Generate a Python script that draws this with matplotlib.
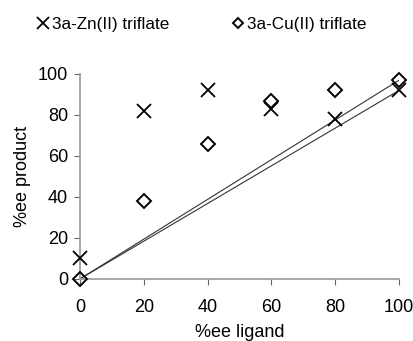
import matplotlib.pyplot as plt
import numpy as np

# %ee ligand vs %ee product
ligand_ee = [0, 20, 40, 60, 80, 100]
zn_product_ee = [10, 82, 92, 83, 78, 92]
cu_product_ee = [0, 38, 66, 87, 92, 97]

# linear-response reference lines (origin to the 100 % point)
line_x = [0, 100]
zn_line_y = [0, 92]
cu_line_y = [0, 97]

xticks = [0, 20, 40, 60, 80, 100]
yticks = [0, 20, 40, 60, 80, 100]

plt.rcParams["font.family"] = ["Liberation Sans", "DejaVu Sans"]

fig = plt.figure(figsize=(4.14, 3.41), dpi=100)
ax = fig.add_axes([0.193, 0.182, 0.771, 0.601])

ax.plot(line_x, zn_line_y, color="#333333", lw=0.8, zorder=1)
ax.plot(line_x, cu_line_y, color="#333333", lw=0.8, zorder=1)

ax.plot(ligand_ee, zn_product_ee, ls="none", marker="x", ms=10, mew=1.3,
        color="black", label="3a-Zn(II) triflate", clip_on=False, zorder=3)
ax.plot(ligand_ee, cu_product_ee, ls="none", marker="D", ms=7, mew=1.4,
        mfc="none", mec="black", label="3a-Cu(II) triflate", clip_on=False, zorder=3)

ax.set_xlim(0, 100)
ax.set_ylim(0, 100)
ax.set_xticks(xticks)
ax.set_yticks(yticks)

for side in ["top", "right"]:
    ax.spines[side].set_visible(False)
for side in ["left", "bottom"]:
    ax.spines[side].set_color("#999999")
    ax.spines[side].set_linewidth(1.2)

ax.tick_params(axis="both", colors="#666666", labelcolor="black", labelsize=13,
               length=4.5, width=0.8)
ax.tick_params(axis="x", pad=10)
ax.tick_params(axis="y", pad=4)

ax.set_xlabel("%ee ligand", fontsize=13, labelpad=5.5)
ax.set_ylabel("%ee product", fontsize=13, labelpad=5)

fig.legend(loc="upper left", bbox_to_anchor=(0.045, 0.995), ncol=2, frameon=False,
           fontsize=12.3, handletextpad=0.05, columnspacing=3.5, handlelength=1.0,
           markerscale=0.8)

fig.savefig("out.png", dpi=100)
